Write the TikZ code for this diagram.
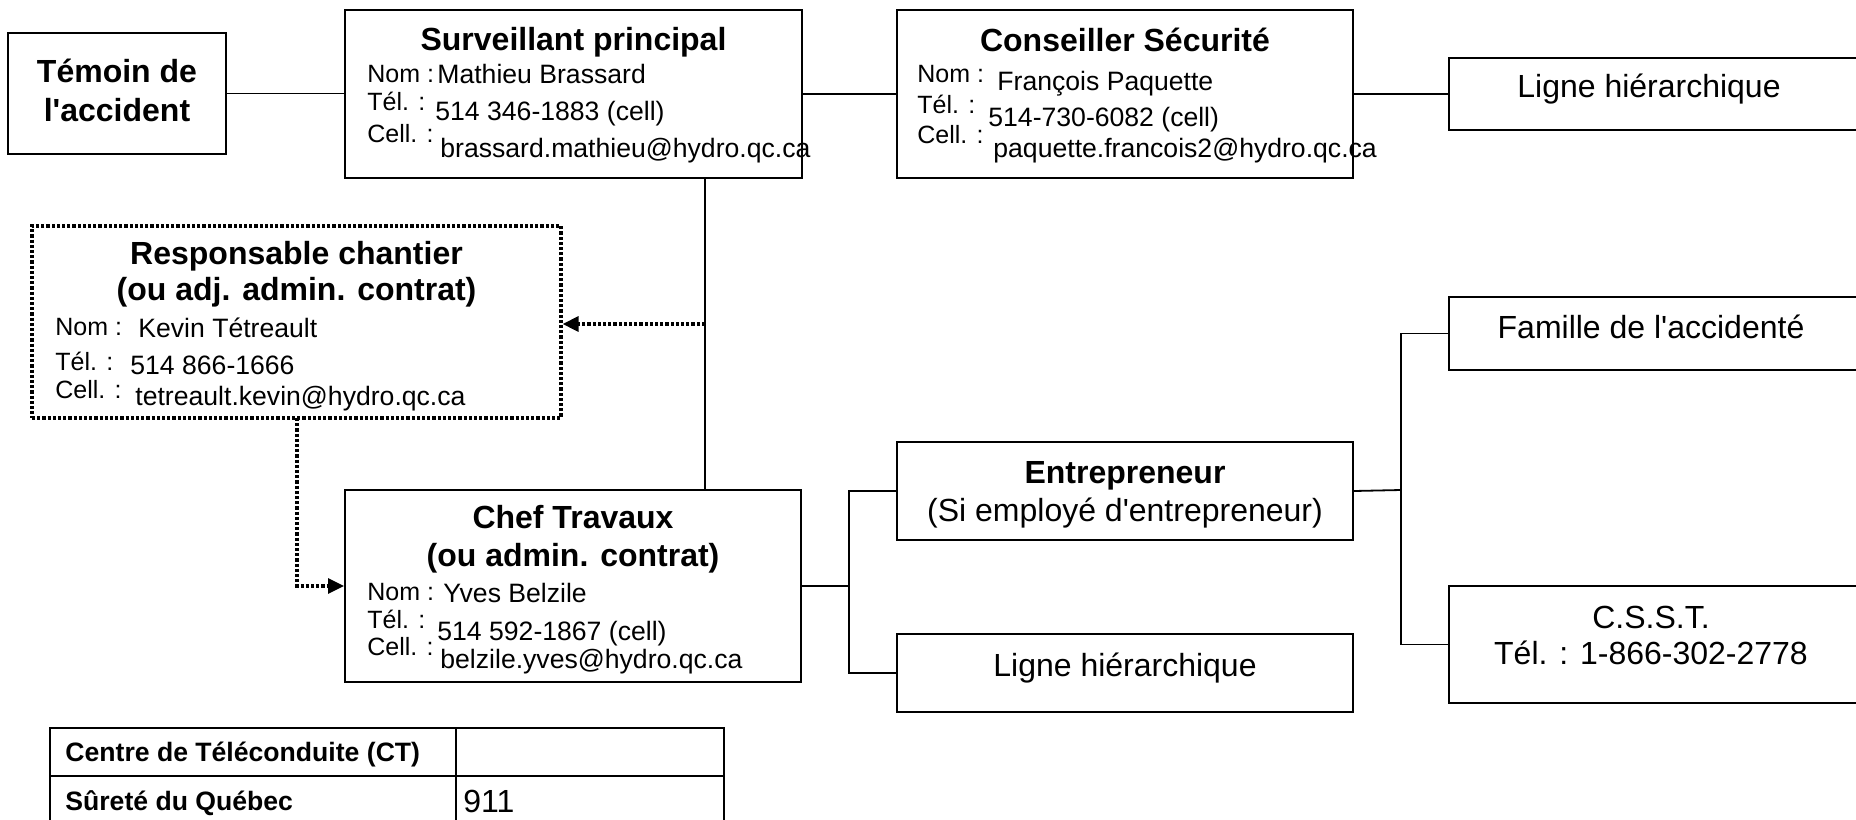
\documentclass[tikz,border=0pt]{standalone}
\usepackage{fontspec}
\setmainfont{Liberation Sans}[Ligatures=TeXOff]
\usetikzlibrary{fit,arrows.meta}
\begin{document}
\begin{tikzpicture}[x=0.5pt,y=-0.5pt,
  box/.style={draw, line width=1pt, inner sep=0pt},
  dbox/.style={draw, line width=1.6pt, dash pattern=on 1.6pt off 1pt, inner sep=0pt},
  conn/.style={line width=0.9pt},
  dotl/.style={line width=1.6pt, dash pattern=on 1.6pt off 1pt},
  endarrow/.style={-{Triangle[length=8pt,width=7.5pt]}},
  ttl/.style={font=\bfseries\fontsize{16}{19}\selectfont, inner sep=0pt, anchor=base},
  big/.style={font=\fontsize{16}{19}\selectfont, inner sep=0pt, anchor=base},
  lbl/.style={font=\fontsize{12.5}{15}\selectfont, inner sep=0pt, anchor=base west},
  val/.style={font=\fontsize{13.3}{16}\selectfont, inner sep=0pt, anchor=base west},
  tbl/.style={font=\bfseries\fontsize{13.3}{16}\selectfont, inner sep=0pt, anchor=base west},
]
\useasboundingbox (0,0) rectangle (1856,819);
\clip (0,0) rectangle (1856,819);

% Temoin
\node[box, fit={(8,33) (226,154)}] (tem) {};
\node[ttl] (tem1) at (117,82) {Témoin de};
\node[ttl] (tem2) at (117,121) {l'accident};

% Surveillant principal
\node[box, fit={(345,10) (802,178)}] (surv) {};
\node[ttl] (survt) at (573.5,50) {Surveillant principal};
\node[lbl] (survl1) at (367,82) {Nom :};
\node[val] (survv1) at (437,83) {Mathieu Brassard};
\node[lbl] (survl2) at (367,110) {Tél. :};
\node[val] (survv2) at (435,120) {514 346-1883 (cell)};
\node[lbl] (survl3) at (367,142) {Cell. :};
\node[val] (survv3) at (440,157) {brassard.mathieu@hydro.qc.ca};

% Conseiller Securite
\node[box, fit={(897,10) (1353,178)}] (cons) {};
\node[ttl] (const) at (1125,51) {Conseiller Sécurité};
\node[lbl] (consl1) at (917,82) {Nom :};
\node[val] (consv1) at (997,90) {François Paquette};
\node[lbl] (consl2) at (917,113) {Tél. :};
\node[val] (consv2) at (988,126) {514-730-6082 (cell)};
\node[lbl] (consl3) at (917,143) {Cell. :};
\node[val] (consv3) at (993,157) {paquette.francois2@hydro.qc.ca};

% Ligne hierarchique (top)
\node[box, fit={(1449,58) (1857,130)}] (lig1) {};
\node[big] (lig1t) at (1649,97) {Ligne hiérarchique};

% Responsable chantier
\node[dbox, fit={(32,226) (561,418)}] (resp) {};
\node[ttl] (respt1) at (296.5,264) {Responsable chantier};
\node[ttl] (respt2) at (296.5,300) {(ou adj. admin. contrat)};
\node[lbl] (respl1) at (55,335) {Nom :};
\node[val] (respv1) at (138,337) {Kevin Tétreault};
\node[lbl] (respl2) at (55,370) {Tél. :};
\node[val] (respv2) at (130,374) {514 866-1666};
\node[lbl] (respl3) at (55,398) {Cell. :};
\node[val] (respv3) at (135,405) {tetreault.kevin@hydro.qc.ca};

% Chef Travaux
\node[box, fit={(345,490) (801,682)}] (chef) {};
\node[ttl] (cheft1) at (573,528) {Chef Travaux};
\node[ttl] (cheft2) at (573,566) {(ou admin. contrat)};
\node[lbl] (chefl1) at (367,600) {Nom :};
\node[val] (chefv1) at (443,602) {Yves Belzile};
\node[lbl] (chefl2) at (367,628) {Tél. :};
\node[val] (chefv2) at (437,640) {514 592-1867 (cell)};
\node[lbl] (chefl3) at (367,655) {Cell. :};
\node[val] (chefv3) at (440,668) {belzile.yves@hydro.qc.ca};

% Entrepreneur
\node[box, fit={(897,442) (1353,540)}] (entr) {};
\node[ttl] (entrt) at (1125,483) {Entrepreneur};
\node[big] (entrs) at (1125,521) {(Si employé d'entrepreneur)};

% Ligne hierarchique (bottom)
\node[box, fit={(897,634) (1353,712)}] (lig2) {};
\node[big] (lig2t) at (1125,676) {Ligne hiérarchique};

% Famille
\node[box, fit={(1449,297) (1857,370)}] (fam) {};
\node[big] (famt) at (1651,338) {Famille de l'accidenté};

% CSST
\node[box, fit={(1449,586) (1857,703)}] (csst) {};
\node[big] (csst1) at (1651,628) {C.S.S.T.};
\node[big] (csst2) at (1651,664) {Tél. : 1-866-302-2778};

% Table
\node[box, fit={(50,728) (456,776)}] (t11) {};
\node[box, fit={(456,728) (724,776)}] (t12) {};
\node[box, fit={(50,776) (456,845)}] (t21) {};
\node[box, fit={(456,776) (724,845)}] (t22) {};
\node[tbl] (t11t) at (65,761) {Centre de Téléconduite (CT)};
\node[tbl] (t21t) at (65,810) {Sûreté du Québec};
\node[big, anchor=base west] (t22t) at (463,812) {911};

% Connectors
\draw[conn] (tem.east) -- (tem.east -| surv.west);
\draw[conn] (surv.east) -- (cons.west);
\draw[conn] (cons.east) -- (lig1.west);
\coordinate (vx) at (705,0);
\draw[conn] (surv.south -| vx) -- (chef.north -| vx);
\coordinate (j1) at (705,324);
\draw[dotl, endarrow] (j1) -- (j1 -| resp.east);
\coordinate (d1) at (297,418);
\draw[dotl, endarrow] (d1) |- (chef.west);
\coordinate (b1) at (849,586);
\draw[conn] (chef.east) -- (b1);
\draw[conn] (entr.west) -| (b1) |- (lig2.west);
\coordinate (b2) at (1401,490);
\draw[conn] (entr.east) -- (b2);
\draw[conn] (fam.west) -| (b2) |- (csst.west);
\end{tikzpicture}
\end{document}
